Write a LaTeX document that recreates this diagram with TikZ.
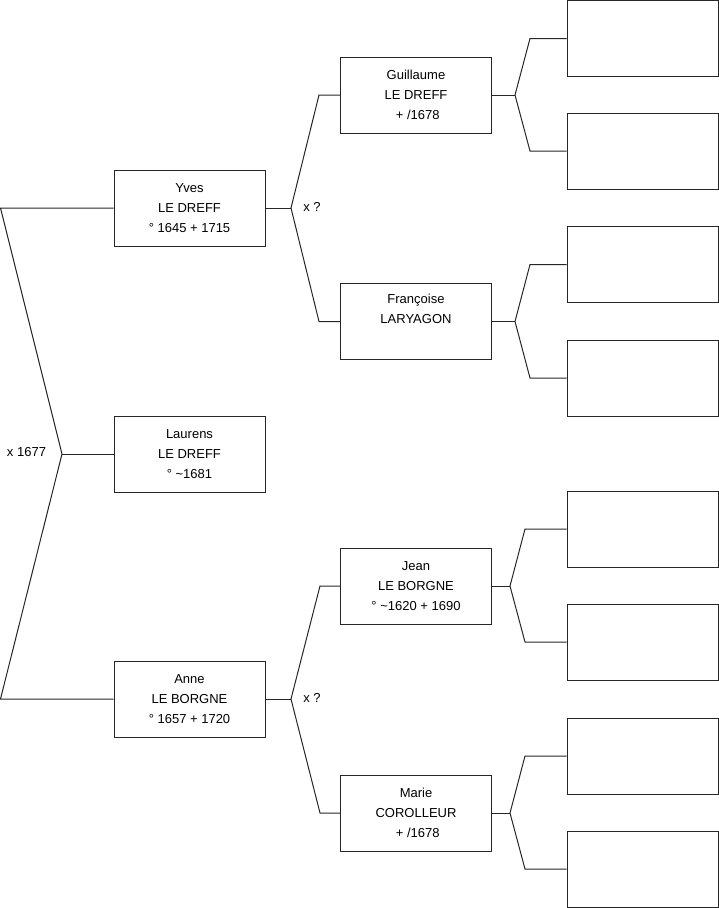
\documentclass[tikz,border=0pt]{standalone}
\usepackage{fontspec}
\setmainfont{Liberation Sans}
\begin{document}
\begin{tikzpicture}[x=1pt,y=-1pt,
  person/.style={draw=black!85, line width=1pt, rectangle, minimum width=151pt, minimum height=76pt, inner sep=0pt, align=center, font=\fontsize{13}{20}\selectfont},
  emptybox/.style={draw=black!85, line width=1pt, rectangle, minimum width=151pt, minimum height=76pt, inner sep=0pt},
  link/.style={draw=black!85, line width=1pt},
  lab/.style={font=\fontsize{13}{20}\selectfont, inner sep=0pt}]
\useasboundingbox (0,0) rectangle (719,908);
% people
\node[person] (yves) at (189.5,208) {Yves\\LE DREFF\\° 1645 + 1715};
\node[person] (laurens) at (189.5,454) {Laurens\\LE DREFF\\° \textasciitilde 1681};
\node[person] (anne) at (189.5,699) {Anne\\LE BORGNE\\° 1657 + 1720};
\node[person] (guil) at (416,95) {Guillaume\\LE DREFF\\\ + /1678};
\node[person] (fran) at (416,321.5) {Françoise\\LARYAGON\\\strut};
\node[person] (jean) at (416,586) {Jean\\LE BORGNE\\° \textasciitilde 1620 + 1690};
\node[person] (marie) at (416,813) {Marie\\COROLLEUR\\\ + /1678};
% empty boxes
\node[emptybox] (e1) at (642.5,38.5) {};
\node[emptybox] (e2) at (642.5,151) {};
\node[emptybox] (e3) at (642.5,264.5) {};
\node[emptybox] (e4) at (642.5,378) {};
\node[emptybox] (e5) at (642.5,529) {};
\node[emptybox] (e6) at (642.5,642) {};
\node[emptybox] (e7) at (642.5,756) {};
\node[emptybox] (e8) at (642.5,869) {};
% coordinates
\coordinate (L1) at (0.5,208);
\coordinate (L2) at (62,454);
\coordinate (L3) at (0.5,699);
\coordinate (Y0) at (291,208);
\coordinate (Y1) at (319,95);
\coordinate (Y2) at (319,321.5);
\coordinate (A0) at (291,699);
\coordinate (A1) at (320,586);
\coordinate (A2) at (320,813);
\coordinate (G0) at (515,95);
\coordinate (G1) at (530,38.5);
\coordinate (G2) at (530,151);
\coordinate (F0) at (515,321.5);
\coordinate (F1) at (530,264.5);
\coordinate (F2) at (530,378);
\coordinate (J0) at (510,586);
\coordinate (J1) at (525,529);
\coordinate (J2) at (525,642);
\coordinate (M0) at (510,813);
\coordinate (M1) at (525,756);
\coordinate (M2) at (525,869);
% connectors
\draw[link] (yves.west) -- (L1) -- (L2) -- (L3) -- (anne.west);
\draw[link] (L2) -- (laurens.west);
\draw[link] (yves.east) -- (Y0);
\draw[link] (guil.west) -- (Y1) -- (Y0) -- (Y2) -- (fran.west);
\draw[link] (anne.east) -- (A0);
\draw[link] (jean.west) -- (A1) -- (A0) -- (A2) -- (marie.west);
\draw[link] (guil.east) -- (G0);
\draw[link] (e1.west) -- (G1) -- (G0) -- (G2) -- (e2.west);
\draw[link] (fran.east) -- (F0);
\draw[link] (e3.west) -- (F1) -- (F0) -- (F2) -- (e4.west);
\draw[link] (jean.east) -- (J0);
\draw[link] (e5.west) -- (J1) -- (J0) -- (J2) -- (e6.west);
\draw[link] (marie.east) -- (M0);
\draw[link] (e7.west) -- (M1) -- (M0) -- (M2) -- (e8.west);
% labels
\node[lab] (m1) at (26.5,452) {x 1677};
\node[lab] (m2) at (312,207) {x ?};
\node[lab] (m3) at (312,698) {x ?};
\end{tikzpicture}
\end{document}
